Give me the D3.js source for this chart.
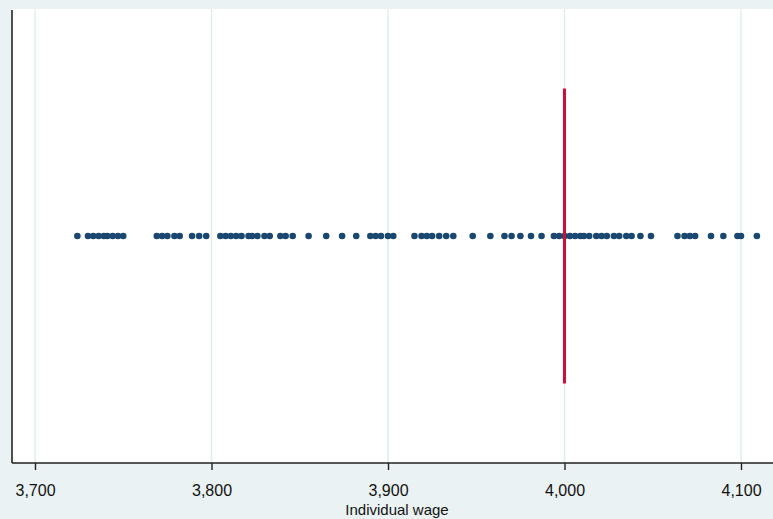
<!DOCTYPE html>
<html>
<head>
<meta charset="utf-8">
<script src="https://cdn.jsdelivr.net/npm/d3@7"></script>
<style>
  html, body { margin: 0; padding: 0; background: #eaf2f3; }
  svg { display: block; }
  text { font-family: "Liberation Sans", Arial, sans-serif; }
</style>
</head>
<body>
<svg id="chart" width="773" height="519"></svg>
<script>
// Individual wages (one dot each) and the reference wage
const wages = [
  3724, 3730, 3733, 3736, 3739, 3741, 3744, 3747, 3750,
  3769, 3772, 3775, 3779, 3782, 3789, 3793, 3797,
  3805, 3808, 3811, 3814, 3817, 3821, 3823, 3826, 3830, 3833, 3839, 3842, 3846,
  3855, 3865, 3874, 3882, 3890, 3893, 3896, 3900, 3903,
  3915, 3919, 3922, 3925, 3929, 3933, 3937,
  3948, 3958, 3966, 3970, 3975, 3981, 3987,
  3994, 3997, 4000, 4003, 4006, 4009, 4011, 4014, 4018, 4021, 4024, 4028, 4031, 4035, 4038, 4043, 4049,
  4064, 4068, 4071, 4074, 4083, 4090, 4098, 4100, 4109
];
const referenceWage = 4000;
const xTicks = [3700, 3800, 3900, 4000, 4100];
const xLabel = "Individual wage";

const W = 773, H = 519;
const plot = { left: 12, right: 773, top: 9, bottom: 463 };

const svg = d3.select("#chart");

const x = d3.scaleLinear().domain([3700, 4100]).range([35, 741]);
const y = d3.scaleLinear().domain([0, 2]).range([plot.bottom, plot.top]);

// outer background
svg.append("rect").attr("width", W).attr("height", H).attr("fill", "#eaf2f3");

// plot region
svg.append("rect")
  .attr("x", plot.left).attr("y", plot.top)
  .attr("width", plot.right - plot.left).attr("height", plot.bottom - plot.top)
  .attr("fill", "#ffffff");

// vertical grid lines
svg.append("g").selectAll("line").data(xTicks).join("line")
  .attr("x1", d => x(d)).attr("x2", d => x(d))
  .attr("y1", plot.top).attr("y2", plot.bottom)
  .attr("stroke", "#e2ecef").attr("stroke-width", 1.5);

// wage dots on a single row
svg.append("g").selectAll("circle").data(wages).join("circle")
  .attr("cx", d => x(d)).attr("cy", y(1))
  .attr("r", 3.3)
  .attr("fill", "#1a476f");

// reference wage line
svg.append("line")
  .attr("x1", x(referenceWage)).attr("x2", x(referenceWage))
  .attr("y1", y(1.65)).attr("y2", y(0.35))
  .attr("stroke", "#c8103a").attr("stroke-width", 3);

// bottom axis
const xAxis = d3.axisBottom(x)
  .tickValues(xTicks)
  .tickFormat(d3.format(","))
  .tickSizeInner(7).tickSizeOuter(0).tickPadding(26);

const gx = svg.append("g")
  .attr("transform", `translate(0,${plot.bottom})`)
  .call(xAxis);
gx.select(".domain").remove();
gx.selectAll(".tick line").attr("stroke", "#222").attr("stroke-width", 1.4);
gx.selectAll(".tick text")
  .attr("fill", "#111").style("font-size", "16px").attr("dy", "0");

gx.append("line")
  .attr("x1", plot.left).attr("x2", plot.right)
  .attr("y1", 0).attr("y2", 0)
  .attr("stroke", "#222").attr("stroke-width", 1.6);

// left axis line
svg.append("line")
  .attr("x1", plot.left).attr("x2", plot.left)
  .attr("y1", plot.top + 1).attr("y2", plot.bottom)
  .attr("stroke", "#222").attr("stroke-width", 1.6);

// axis title
svg.append("text")
  .attr("x", 397).attr("y", 515)
  .attr("text-anchor", "middle")
  .attr("fill", "#111").style("font-size", "15px")
  .text(xLabel);
</script>
</body>
</html>
